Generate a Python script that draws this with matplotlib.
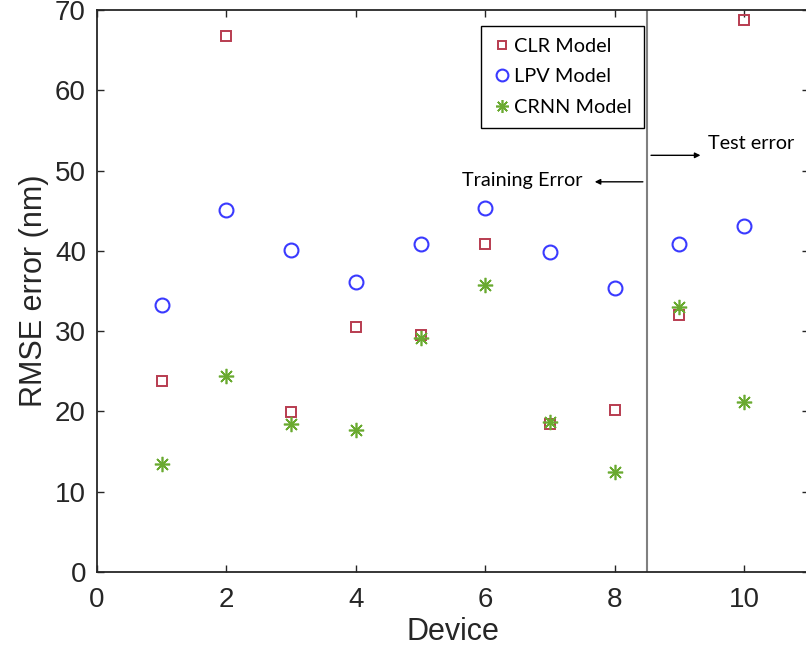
import numpy as np
import matplotlib.pyplot as plt

devices = np.arange(1, 11)
clr = [23.8, 66.7, 19.9, 30.5, 29.5, 40.8, 18.4, 20.2, 32.0, 68.8]
lpv = [33.2, 45.1, 40.1, 36.1, 40.9, 45.3, 39.8, 35.4, 40.8, 43.1]
crnn = [13.4, 24.4, 18.4, 17.7, 29.1, 35.7, 18.7, 12.4, 33.0, 21.2]
split = 8.5

plt.rcParams['font.family'] = ['Liberation Sans', 'DejaVu Sans']
dark = '#262626'

fig = plt.figure(figsize=(8.06, 6.51), dpi=100)
ax = fig.add_axes([97/806, 79/651, 11*64.7/806, 562/651])

ax.plot(devices, clr, 's', ms=7, mfc='none', mec='#b83c50', mew=1.4, label='CLR Model')
ax.plot(devices, lpv, 'o', ms=10, mfc='none', mec='#3a3aff', mew=1.5, label='LPV Model')
ax.plot(devices, crnn, marker=(8, 2, 0), ls='none', ms=11, color='#6aaa30', mew=1.2,
        label='CRNN Model')

ax.axvline(split, color='#808080', lw=1.5)

ax.set_xlim(0, 11)
ax.set_ylim(0, 70)
ax.set_xticks([0, 2, 4, 6, 8, 10])
ax.set_yticks(np.arange(0, 71, 10))
ax.tick_params(direction='in', top=True, right=True, length=5, width=1,
               colors=dark, labelsize=20)
ax.tick_params(axis='x', pad=11)
ax.tick_params(axis='y', pad=8)
for s in ax.spines.values():
    s.set_color(dark)
    s.set_linewidth(1.3)
ax.set_xlabel('Device', fontsize=22, color=dark, labelpad=3)
ax.set_ylabel('RMSE error (nm)', fontsize=22, color=dark, labelpad=4)

leg = ax.legend(loc='upper right', bbox_to_anchor=(0.7686, 0.9715), borderaxespad=0,
                fancybox=False, edgecolor='black', framealpha=1,
                prop={'family': 'Lato', 'size': 14.3}, handletextpad=0.2,
                handlelength=0.9, borderpad=0.6, labelspacing=0.68, markerscale=0.85)
leg.get_frame().set_linewidth(1.0)

ax.annotate('', xy=(9.37, 51.9), xytext=(split + 0.02, 51.9),
            arrowprops=dict(arrowstyle='-|>', color='black', lw=1, mutation_scale=8))
ax.text(9.45, 53.4, 'Test error', fontsize=14.3, family='Lato', va='center', ha='left')
ax.annotate('', xy=(7.65, 48.6), xytext=(split - 0.02, 48.6),
            arrowprops=dict(arrowstyle='-|>', color='black', lw=1, mutation_scale=8))
ax.text(7.51, 48.8, 'Training Error', fontsize=14.3, family='Lato', va='center', ha='right')

fig.savefig('out.png', dpi=100)
